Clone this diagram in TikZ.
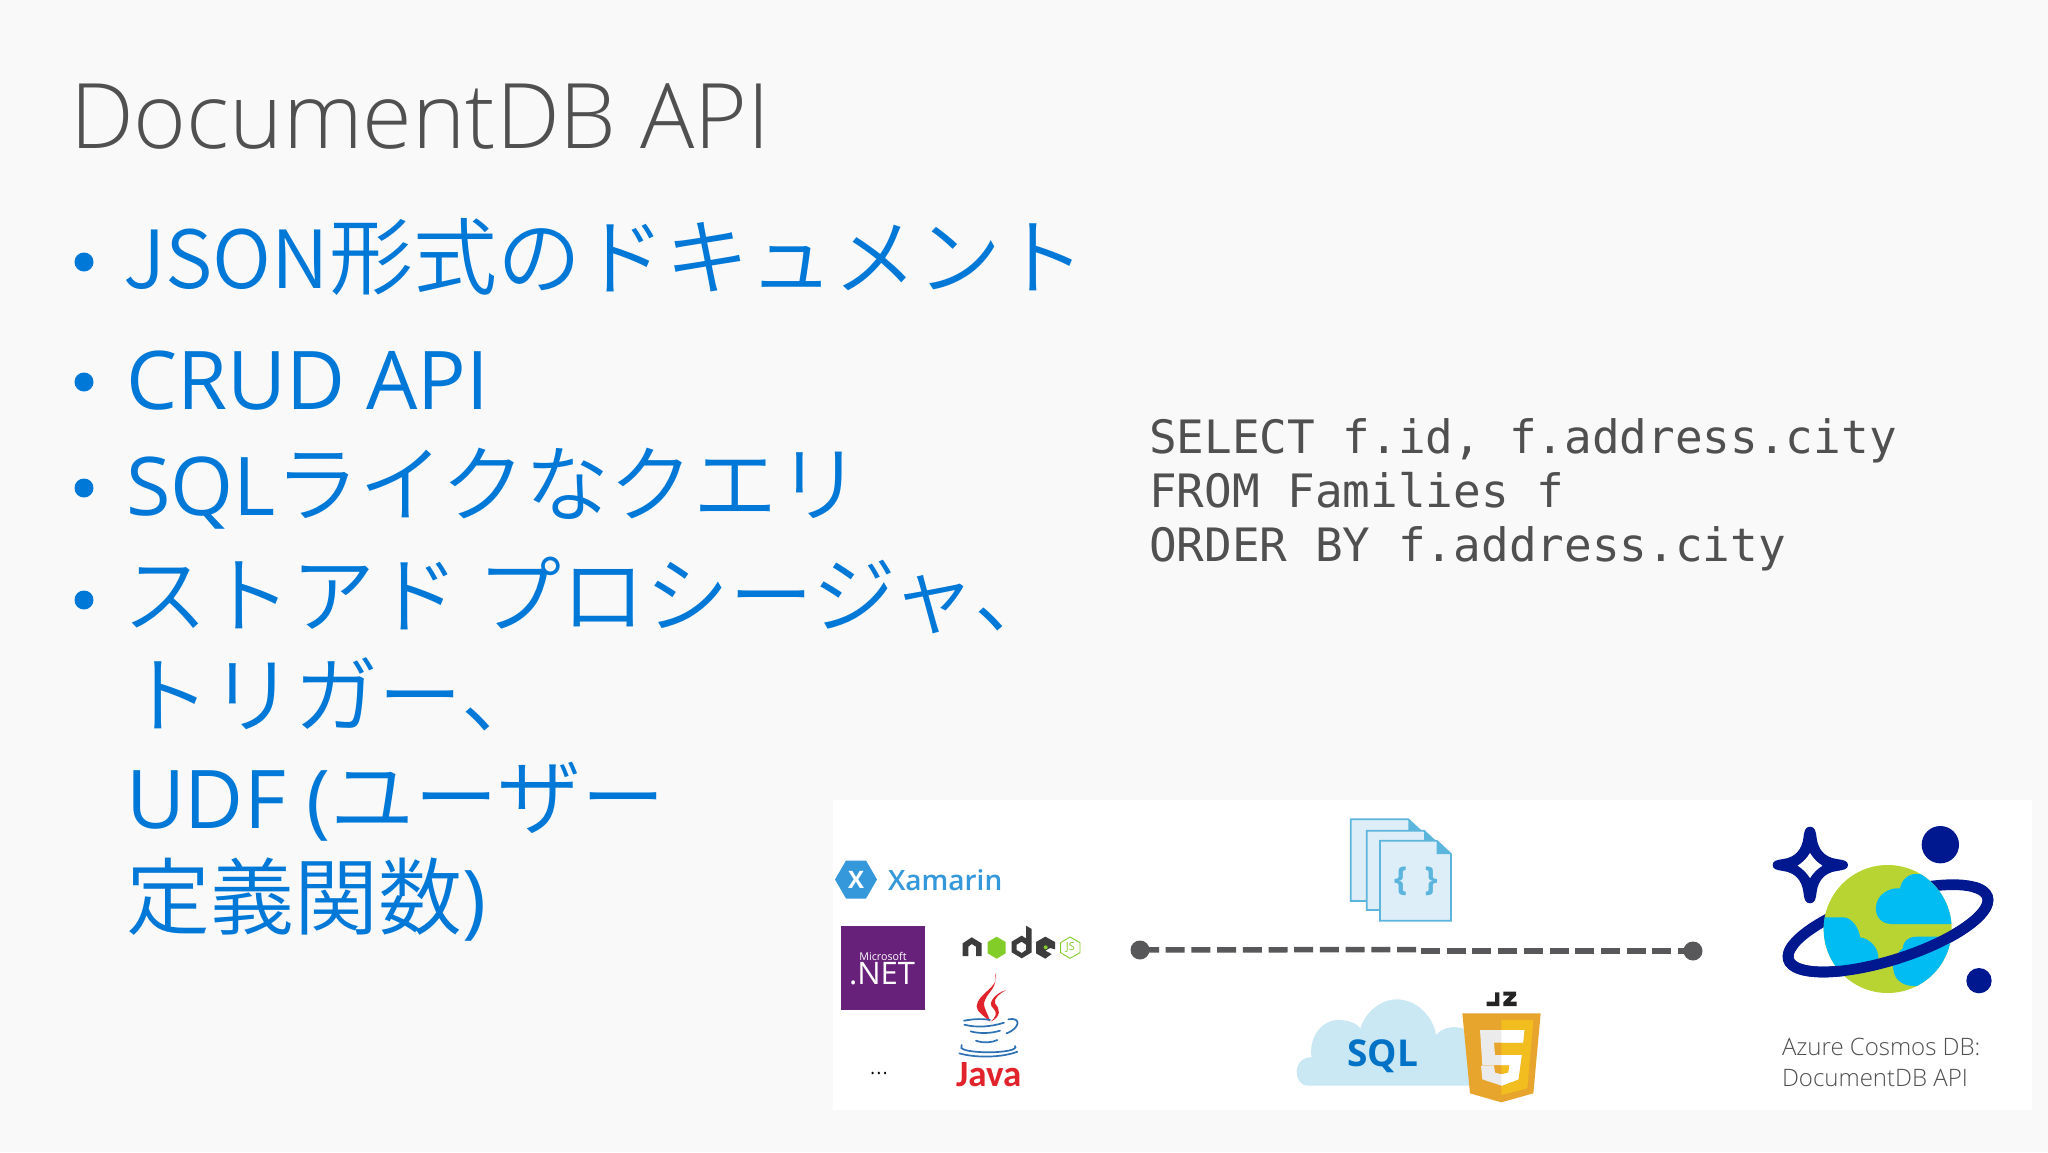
\documentclass[tikz,border=0pt]{standalone}
\usepackage{fontspec}
\newfontfamily\lt{Open Sans Light}
\newfontfamily\rg{Open Sans}
\newfontfamily\smb{Open Sans Semibold}
\newfontfamily\jp{Noto Sans CJK JP DemiLight}
\newfontfamily\cd{DejaVu Sans Mono}
\newfontfamily\jv{Carlito}
\definecolor{bg}{HTML}{F9F9FA}
\definecolor{blu}{HTML}{0078D7}
\definecolor{gry}{HTML}{505050}
\definecolor{dash}{HTML}{58585A}
\definecolor{cnav}{HTML}{00188F}
\definecolor{csky}{HTML}{00BCF2}
\definecolor{cgrn}{HTML}{B8D432}
\definecolor{dpage}{HTML}{DEEEF8}
\definecolor{dline}{HTML}{5BB5DC}
\definecolor{xam}{HTML}{3498DB}
\definecolor{jsdk}{HTML}{E8A52D}
\definecolor{jslt}{HTML}{F2BD1F}
\definecolor{ndk}{HTML}{3C3C3C}
\definecolor{ngr}{HTML}{83CD29}
\definecolor{netc}{HTML}{68217A}
\definecolor{jred}{HTML}{E1242B}
\definecolor{jblu}{HTML}{2E72B3}
\definecolor{cloudc}{HTML}{C9E8F4}
\definecolor{sqlc}{HTML}{0072C6}
\tikzset{
 x=1pt,y=-1pt,
 txt/.style={anchor=base west,inner sep=0pt,outer sep=0pt,align=left},
 bul/.style={txt,text=blu,font=\rg\fontsize{81}{81}\selectfont},
 bdot/.style={circle,fill=blu,minimum size=19pt,inner sep=0pt},
 codeline/.style={txt,text=gry,font=\cd\fontsize{46}{46}\selectfont},
 page/.style={draw=dline,fill=dpage,line width=1.7pt,line join=miter},
 endp/.style={circle,fill=dash,minimum size=19pt,inner sep=0pt},
 dl/.style={draw=dash,line width=5.5pt,dash pattern=on 19pt off 6.7pt},
 zoomA/.style={shift={(820,790)},x=.33333pt,y=-.33333pt},
 zoomB/.style={shift={(1240,800)},x=.33333pt,y=-.33333pt},
 zoomC/.style={shift={(1720,800)},x=.33333pt,y=-.33333pt},
 jcup/.style={draw=jblu,line width=1.7pt,line cap=round},
}
\newcommand\jj[1]{{\jp\fontsize{84}{84}\selectfont #1}}
\begin{document}
\begin{tikzpicture}
\useasboundingbox (0,0) rectangle (2048,1152);
\fill[bg] (0,0) rectangle (2048,1152);
\fill[white] (833,800) rectangle (2032,1110);
% title
\node[txt,text=gry,font=\lt\fontsize{90.4}{91}\selectfont] (title) at (70,148) {DocumentDB API};
% bullets
\node[bdot] (b1) at (84,262) {};
\node[bdot] (b2) at (84,382) {};
\node[bdot] (b3) at (84,488) {};
\node[bdot] (b4) at (84,600) {};
\node[bul] (t1) at (123,288) {{\jp\fontsize{80}{80}\selectfont JSON}\jj{形式のドキュメント}};
\node[bul] (t2) at (126,409) {CRUD API};
\node[bul] (t3) at (126,515) {SQL\jj{ライクなクエリ}};
\node[bul] (t4) at (123,626) {\jj{ストアド プロシージャ、}};
\node[bul] (t5) at (126,726) {\jj{トリガー、}};
\node[bul] (t6) at (126,828) {UDF (\jj{ユーザー}};
\node[bul] (t7) at (126,928) {\jj{定義関数})};
% code
\node[codeline] (c1) at (1149,453) {SELECT f.id, f.address.city};
\node[codeline] (c2) at (1149,507) {FROM Families f};
\node[codeline] (c3) at (1149,561) {ORDER BY f.address.city};
% connector
\node[endp] (e1) at (1140,950) {};
\node[endp] (e2) at (1693,951) {};
\coordinate (m1) at (1416,949.5);
\coordinate (m2) at (1421,951);
\path[dl] (e1.center) -- (m1);
\path[dl] (m2) -- (e2.center);
% Xamarin
\fill[xam] (835,879.5) -- (846,860.5) -- (866,860.5) -- (877,879.5) -- (866,898.5) -- (846,898.5) -- cycle;
\node[anchor=center,inner sep=0pt,text=white,font=\rg\bfseries\fontsize{24}{24}\selectfont] (xx) at (856,879.5) {X};
\node[txt,text=xam,font=\smb\fontsize{28}{30}\selectfont] (xamt) at (888,890) {Xamarin};
% .NET
\fill[netc] (841,926) rectangle (925,1010);
\node[anchor=center,inner sep=0pt,text=white,font=\rg\fontsize{10.7}{11}\selectfont] (ms) at (883,956) {Microsoft};
\node[anchor=base,inner sep=0pt,text=white,font=\rg\fontsize{31}{32}\selectfont] (net) at (882,984) {.NET};
% dots
\node[anchor=base,inner sep=0pt,text=black,font=\lt\fontsize{26}{26}\selectfont] (dots) at (879,1074) {...};
% node logo
\begin{scope}[zoomA]
\fill[ndk] (428,460) -- (455,442) -- (485,460) -- (485,498) -- (468,498) -- (468,470) -- (455,462) -- (445,470) -- (445,498) -- (428,498) -- cycle;
\fill[ngr] (530,440) -- (557,456) -- (557,490) -- (530,506) -- (503,490) -- (503,456) -- cycle;
\fill[ndk,even odd rule] (618,407) -- (635,417) -- (635,487) -- (605,505) -- (575,487) -- (575,455) -- (605,437) -- (618,445) -- cycle (605,455) -- (590,464) -- (590,480) -- (605,489) -- (618,480) -- (618,464) -- cycle;
\fill[ndk] (676,440) -- (705,456) -- (705,478) -- (690,474) -- (676,482) -- (695,492) -- (676,506) -- (648,490) -- (648,456) -- cycle;
\fill[ngr] (677,472) circle[radius=6];
\draw[ngr,line width=.9pt,fill=white] (750,441) -- (780,458) -- (780,488) -- (750,505) -- (722,488) -- (722,458) -- cycle;
\node[anchor=center,inner sep=0pt,text=ngr,font=\rg\fontsize{11}{11}\selectfont] (njs) at (751,473) {JS};
% java
\fill[jred] (525,550) .. controls (545,590) and (470,610) .. (470,650) .. controls (470,665) and (495,680) .. (510,695) .. controls (505,670) and (485,650) .. (495,630) .. controls (505,605) and (535,590) .. (525,550) -- cycle;
\fill[jred] (558,600) .. controls (525,610) and (500,640) .. (520,655) .. controls (535,668) and (525,685) .. (512,695) .. controls (545,680) and (540,655) .. (525,640) .. controls (520,625) and (540,610) .. (558,600) -- cycle;
\draw[jcup] (432,692) .. controls (465,686) and (490,686) .. (510,690);
\draw[jcup] (433,704) .. controls (470,714) and (515,710) .. (552,698);
\draw[jcup] (452,724) .. controls (480,732) and (515,730) .. (540,722);
\draw[jcup] (468,752) .. controls (490,760) and (515,758) .. (532,750);
\draw[jcup] (565,688) .. controls (605,680) and (600,715) .. (560,730);
\draw[jcup] (425,765) .. controls (415,778) and (440,785) .. (500,787) .. controls (550,787) and (595,780) .. (585,768);
\draw[jcup] (418,790) .. controls (470,805) and (550,802) .. (592,785);
\node[txt,text=jred,font=\jv\bfseries\fontsize{37}{37}\selectfont] (java) at (408,890) {Java};
\end{scope}
% documents
\begin{scope}[zoomB]
\path[page] (332,58) -- (505,58) -- (545,95) -- (545,303) -- (332,303) -- cycle;
\fill[dline] (505,58) -- (545,95) -- (505,95) -- cycle;
\path[page] (380,92) -- (552,92) -- (590,128) -- (590,330) -- (380,330) -- cycle;
\fill[dline] (552,92) -- (590,128) -- (552,128) -- cycle;
\path[page] (420,122) -- (590,122) -- (633,162) -- (633,362) -- (420,362) -- cycle;
\fill[dline] (590,122) -- (633,162) -- (590,162) -- cycle;
\node[anchor=center,inner sep=0pt,text=dline,font=\rg\bfseries\fontsize{33}{33}\selectfont] (brl) at (482,245) {\{};
\node[anchor=center,inner sep=0pt,text=dline,font=\rg\bfseries\fontsize{33}{33}\selectfont] (brr) at (573,245) {\}};
% cloud
\fill[cloudc] (205,857) .. controls (180,857) and (170,835) .. (170,815) .. controls (170,790) and (190,770) .. (215,772) .. controls (205,720) and (240,660) .. (295,660) .. controls (325,660) and (350,670) .. (362,685) .. controls (375,635) and (425,598) .. (470,598) .. controls (530,598) and (580,650) .. (588,705) .. controls (610,680) and (640,678) .. (670,685) -- (700,857) -- cycle;
\node[anchor=center,inner sep=0pt,text=sqlc,font=\rg\bfseries\fontsize{37}{37}\selectfont] (sql) at (428,770) {SQL};
% shield
\fill[jsdk] (667,640) -- (902,640) -- (880,880) -- (784,907) -- (690,880) -- cycle;
\fill[jslt] (784,660) -- (880,660) -- (862,865) -- (784,885) -- cycle;
\def\five{(720,690) -- (853,690) -- (849,728) -- (762,728) -- (765,765) -- (845,765) -- (835,838) -- (785,857) -- (727,838) -- (723,797) -- (762,797) -- (765,818) -- (785,823) -- (805,818) -- (809,795) -- (727,795) -- cycle}
\fill[white!92!black] \five;
\begin{scope}
\clip (784,640) rectangle (902,907);
\fill[white] \five;
\end{scope}
\fill[ndk!60!black] (765,577) -- (778,577) -- (778,618) -- (740,618) -- (740,605) -- (765,605) -- cycle;
\fill[ndk!60!black] (790,575) -- (828,575) -- (828,587) -- (810,605) -- (830,605) -- (830,618) -- (790,618) -- (790,607) -- (810,587) -- (790,587) -- cycle;
\end{scope}
% cosmos
\begin{scope}[zoomC]
\def\ringx{504+313*cos(\t)*cos(17.5)+95.5*sin(\t)*sin(17.5)}
\def\ringy{385-313*cos(\t)*sin(17.5)+95.5*sin(\t)*cos(17.5)}
\draw[cnav,line width=10.7pt] plot[smooth cycle,samples=60,domain=0:354,variable=\t] ({\ringx},{\ringy});
\fill[cgrn] (503,387) circle[radius=192];
\begin{scope}
\clip (503,387) circle[radius=192];
\fill[csky] (720,372) -- (515,372) .. controls (480,372) and (465,345) .. (468,320) .. controls (470,285) and (505,262) .. (540,265) .. controls (545,235) and (570,220) .. (590,222) .. controls (620,222) and (700,240) .. (720,280) -- cycle;
\fill[csky] (290,352) -- (370,352) .. controls (395,352) and (418,385) .. (420,412) .. controls (450,415) and (478,445) .. (475,480) -- (470,500) -- (290,500) -- cycle;
\fill[csky] (720,410) -- (590,410) .. controls (560,410) and (548,430) .. (548,445) .. controls (520,470) and (515,490) .. (520,510) .. controls (525,545) and (555,560) .. (590,558) -- (720,558) -- cycle;
\end{scope}
\draw[cnav,line width=10.7pt,line cap=butt] plot[smooth,samples=40,domain=-25:205,variable=\t] ({\ringx},{\ringy});
\fill[cnav] (661,134) circle[radius=56];
\fill[cnav] (777,542) circle[radius=38];
\fill[cnav,even odd rule] (270,80) .. controls (285,80) and (288,95) .. (290,115) .. controls (295,150) and (315,172) .. (350,177) .. controls (370,180) and (384,182) .. (384,195) .. controls (384,208) and (370,210) .. (350,213) .. controls (315,218) and (295,240) .. (290,275) .. controls (288,295) and (285,310) .. (270,310) .. controls (255,310) and (252,295) .. (250,275) .. controls (245,240) and (225,218) .. (190,213) .. controls (170,210) and (158,208) .. (158,195) .. controls (158,182) and (170,180) .. (190,177) .. controls (225,172) and (245,150) .. (250,115) .. controls (252,95) and (255,80) .. (270,80) -- cycle
 (270,158) .. controls (280,175) and (292,187) .. (308,197) .. controls (292,207) and (280,219) .. (270,235) .. controls (260,219) and (248,207) .. (232,197) .. controls (248,187) and (260,175) .. (270,158) -- cycle;
\end{scope}
\node[txt,text=gry,font=\lt\fontsize{24}{25}\selectfont] (az1) at (1782,1055) {Azure Cosmos DB:};
\node[txt,text=gry,font=\lt\fontsize{24}{25}\selectfont] (az2) at (1782,1086) {DocumentDB API};
\end{tikzpicture}
\end{document}
